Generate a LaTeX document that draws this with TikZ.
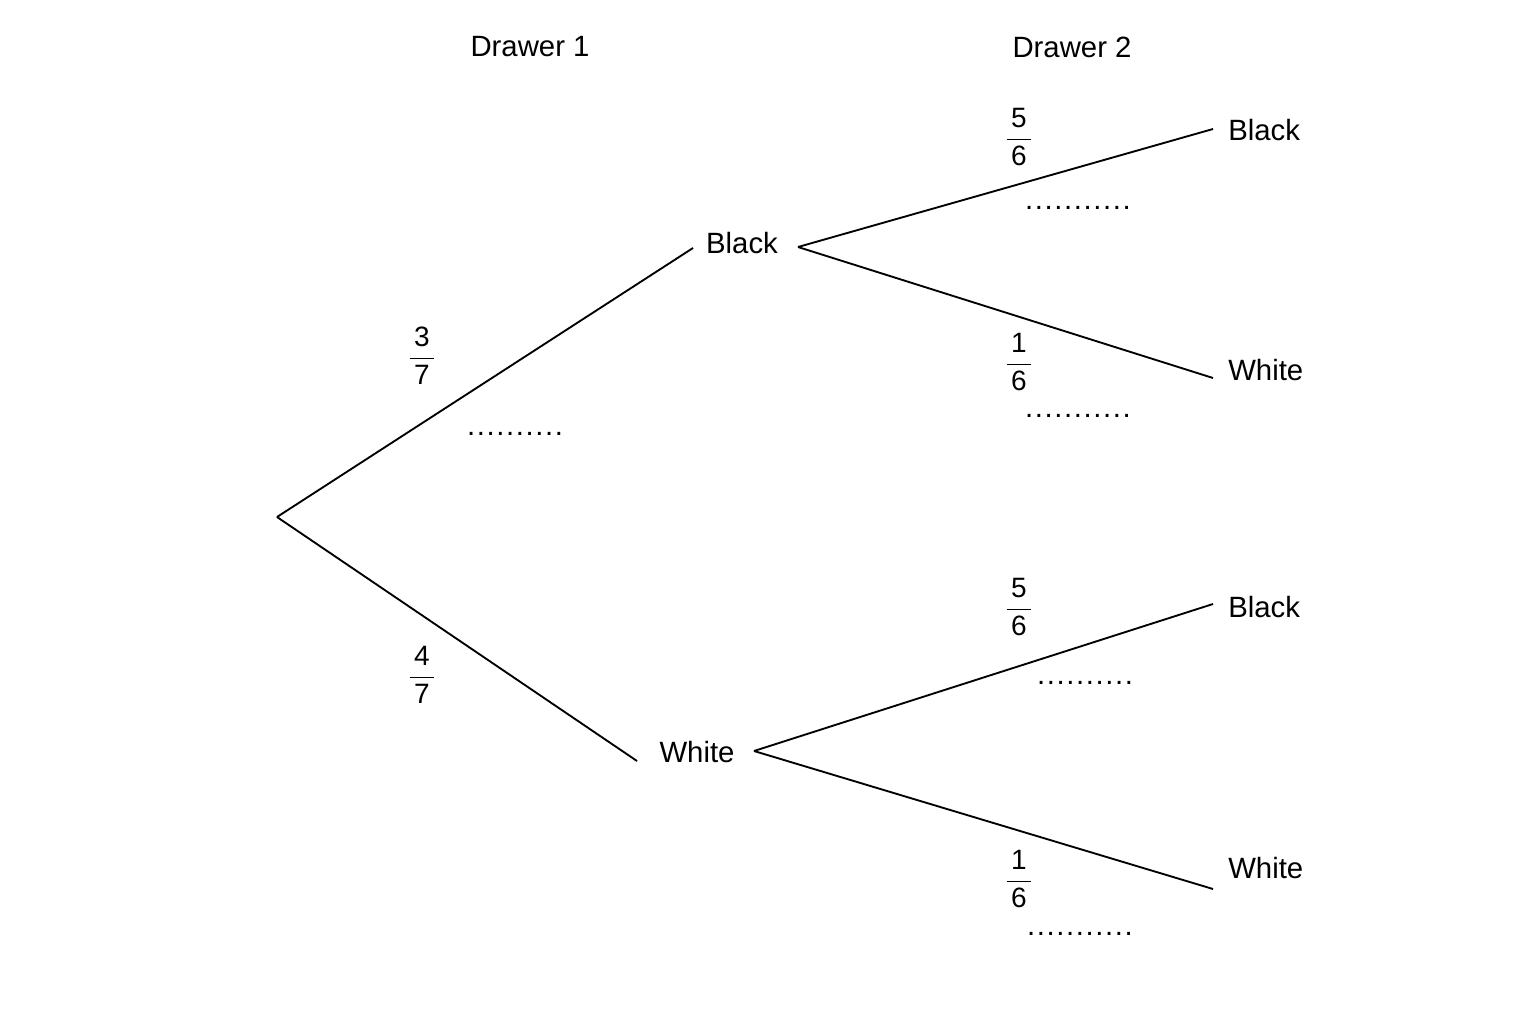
\documentclass[tikz,border=0pt]{standalone}
\usepackage{amsmath}
\usepackage{fontspec}
\setmainfont{Liberation Sans}
\newcommand{\dotrow}[1]{\foreach \i in {1,...,#1}{.\kern1.1pt}\unskip}
\begin{document}
\begin{tikzpicture}[x=0.75pt,y=-0.75pt,
  lab/.style={font=\fontsize{22}{26}\selectfont, inner sep=0pt},
  fr/.style={font=\fontsize{21}{25}\selectfont, inner sep=0pt},
  dt/.style={font=\fontsize{22}{26}\selectfont, inner sep=0pt},
  br/.style={line width=1.4pt}]
\useasboundingbox (0,0) rectangle (1536,1024);
\node[lab] (h1) at (530,47) {Drawer 1};
\node[lab] (h2) at (1072,47) {Drawer 2};
\coordinate (root) at (277,517);
\node[lab] (B) at (742,243) {Black};
\node[lab] (W) at (697,752) {White};
\coordinate (Bin) at (693,248);
\coordinate (Win) at (637,761);
\coordinate (Bout) at (798,247);
\coordinate (Wout) at (754,751);
\coordinate (e1) at (1213,129);
\coordinate (e2) at (1213,378);
\coordinate (e3) at (1213,604);
\coordinate (e4) at (1213,889);
\node[lab,anchor=west] (l1) at (1228,130) {Black};
\node[lab,anchor=west] (l2) at (1228,370) {White};
\node[lab,anchor=west] (l3) at (1228,607) {Black};
\node[lab,anchor=west] (l4) at (1228,868) {White};
\draw[br] (root) -- (Bin);
\draw[br] (root) -- (Win);
\draw[br] (Bout) -- (e1);
\draw[br] (Bout) -- (e2);
\draw[br] (Wout) -- (e3);
\draw[br] (Wout) -- (e4);
\node[fr] (f1) at (422,356) {$\dfrac{\,\textrm{3}\,}{\,\textrm{7}\,}$};
\node[fr] (f2) at (422,675) {$\dfrac{\,\textrm{4}\,}{\,\textrm{7}\,}$};
\node[fr] (f3) at (1019,137) {$\dfrac{\,\textrm{5}\,}{\,\textrm{6}\,}$};
\node[fr] (f4) at (1019,362) {$\dfrac{\,\textrm{1}\,}{\,\textrm{6}\,}$};
\node[fr] (f5) at (1019,607) {$\dfrac{\,\textrm{5}\,}{\,\textrm{6}\,}$};
\node[fr] (f6) at (1019,879) {$\dfrac{\,\textrm{1}\,}{\,\textrm{6}\,}$};
\node[dt] (d1) at (515,434) {.\kern1.2pt.\kern1.2pt.\kern1.2pt.\kern1.2pt.\kern1.2pt.\kern1.2pt.\kern1.2pt.\kern1.2pt.\kern1.2pt.};
\node[dt] (d2) at (1078,208) {.\kern1.2pt.\kern1.2pt.\kern1.2pt.\kern1.2pt.\kern1.2pt.\kern1.2pt.\kern1.2pt.\kern1.2pt.\kern1.2pt.\kern1.2pt.};
\node[dt] (d3) at (1078,416) {.\kern1.2pt.\kern1.2pt.\kern1.2pt.\kern1.2pt.\kern1.2pt.\kern1.2pt.\kern1.2pt.\kern1.2pt.\kern1.2pt.\kern1.2pt.};
\node[dt] (d4) at (1085,683) {.\kern1.2pt.\kern1.2pt.\kern1.2pt.\kern1.2pt.\kern1.2pt.\kern1.2pt.\kern1.2pt.\kern1.2pt.\kern1.2pt.};
\node[dt] (d5) at (1080,934) {.\kern1.2pt.\kern1.2pt.\kern1.2pt.\kern1.2pt.\kern1.2pt.\kern1.2pt.\kern1.2pt.\kern1.2pt.\kern1.2pt.\kern1.2pt.};
\end{tikzpicture}
\end{document}
